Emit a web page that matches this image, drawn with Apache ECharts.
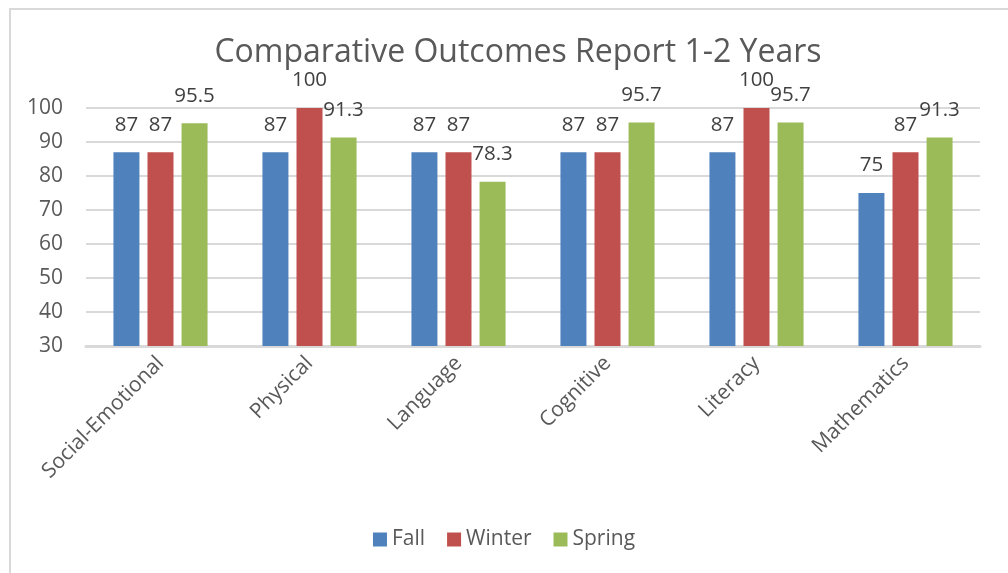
<!DOCTYPE html>
<html><head><meta charset="utf-8">
<script src="https://cdn.jsdelivr.net/npm/echarts@6/dist/echarts.min.js"></script>
<style>html,body{margin:0;padding:0;background:#fff}#c{width:1008px;height:573px}
#frame{position:absolute;left:9px;top:8px;width:1010px;height:580px;border:2px solid #d9d9d9;box-sizing:border-box;pointer-events:none}</style>
</head><body><div id="c"></div><div id="frame"></div>
<script>
const categories = ["Social-Emotional","Physical","Language","Cognitive","Literacy","Mathematics"];
const fall = [87,87,87,87,87,75];
const winter = [87,100,87,87,100,87];
const spring = [95.5,91.3,78.3,95.7,95.7,91.3];
const yTicks = [30,40,50,60,70,80,90,100];
const font = "'Open Sans', 'Noto Sans', sans-serif";
const chart = echarts.init(document.getElementById('c'));
const lbl = {show:true,position:'top',distance:17,color:'#404040',fontSize:20.5,fontFamily:font};
function s(name,data,color){return {name,type:'bar',data,barWidth:26,barGap:'31%',itemStyle:{color},label:lbl};}
chart.setOption({
  animation:false,
  title:{text:'Comparative Outcomes Report 1-2 Years',left:513,textAlign:'center',top:32,
    textStyle:{fontFamily:"'Liberation Sans Narrow', 'Open Sans', sans-serif",fontWeight:'normal',fontSize:32,color:'#595959'}},
  grid:{left:86,right:28,top:108,bottom:227,containLabel:false},
  legend:{bottom:18,left:'center',itemWidth:14,itemHeight:14,itemGap:22,icon:'rect',
    textStyle:{fontFamily:font,fontSize:21,color:'#595959'},data:['Fall','Winter','Spring']},
  xAxis:{type:'category',data:categories,
    axisLine:{lineStyle:{color:'#d9d9d9',width:3}},axisTick:{show:false},
    axisLabel:{rotate:45,fontFamily:font,fontSize:21,color:'#595959',margin:14,interval:0}},
  yAxis:{type:'value',min:yTicks[0],max:yTicks[yTicks.length-1],interval:10,
    axisLine:{show:false},axisTick:{show:false},
    splitLine:{lineStyle:{color:'#d9d9d9',width:2}},
    axisLabel:{fontFamily:font,fontSize:21,color:'#595959',margin:23}},
  series:[s('Fall',fall,'#4F81BD'),s('Winter',winter,'#C0504D'),s('Spring',spring,'#9BBB59')]
});
</script></body></html>
